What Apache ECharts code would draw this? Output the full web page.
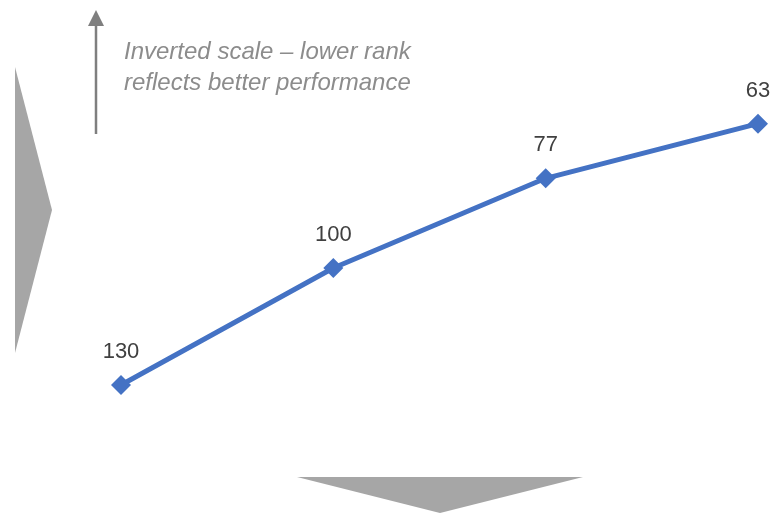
<!DOCTYPE html>
<html>
<head>
<meta charset="utf-8">
<script src="https://cdn.jsdelivr.net/npm/echarts@6/dist/echarts.min.js"></script>
<style>
  html, body { margin: 0; padding: 0; background: #fff; }
  #chart { width: 777px; height: 513px; }
</style>
</head>
<body>
<div id="chart"></div>
<script>
// Rank by period (lower rank = better)
const categories = ['P1', 'P2', 'P3', 'P4'];
const rankValues = [130, 100, 77, 63];
const noteLines = ['Inverted scale \u2013 lower rank', 'reflects better performance'];

const chart = echarts.init(document.getElementById('chart'), null, { renderer: 'canvas' });

const shapeGray = '#a6a6a6';
const arrowGray = '#7f7f7f';

chart.setOption({
  animation: false,
  backgroundColor: '#ffffff',
  grid: { left: 121, right: 19, top: 112, bottom: 89 },
  xAxis: {
    type: 'category',
    data: categories,
    boundaryGap: false,
    show: false
  },
  yAxis: {
    type: 'value',
    inverse: true,
    min: 60,
    max: 140,
    show: false
  },
  series: [{
    type: 'line',
    data: rankValues,
    lineStyle: { color: '#4472c4', width: 5 },
    itemStyle: { color: '#4472c4' },
    symbol: 'diamond',
    symbolSize: 20,
    label: {
      show: true,
      position: 'top',
      distance: 12,
      color: '#404040',
      fontFamily: 'Liberation Sans, Arial, sans-serif',
      fontSize: 22
    }
  }],
  graphic: [
    // left chevron
    {
      type: 'polygon',
      shape: { points: [[15, 67], [52, 210], [15, 353]] },
      style: { fill: shapeGray },
      silent: true
    },
    // bottom chevron
    {
      type: 'polygon',
      shape: { points: [[297, 477], [583, 477], [440, 513]] },
      style: { fill: shapeGray },
      silent: true
    },
    // up arrow shaft
    {
      type: 'line',
      shape: { x1: 96, y1: 24, x2: 96, y2: 134 },
      style: { stroke: arrowGray, lineWidth: 2.5 },
      silent: true
    },
    // up arrow head
    {
      type: 'polygon',
      shape: { points: [[96, 10], [104, 26], [88, 26]] },
      style: { fill: arrowGray },
      silent: true
    },
    {
      type: 'text',
      left: 124,
      top: 37,
      style: {
        text: noteLines.join('\n'),
        fill: '#8c8c8c',
        fontStyle: 'italic',
        fontFamily: 'Liberation Sans, Arial, sans-serif',
        fontSize: 24,
        lineHeight: 31
      },
      silent: true
    }
  ]
});
</script>
</body>
</html>
